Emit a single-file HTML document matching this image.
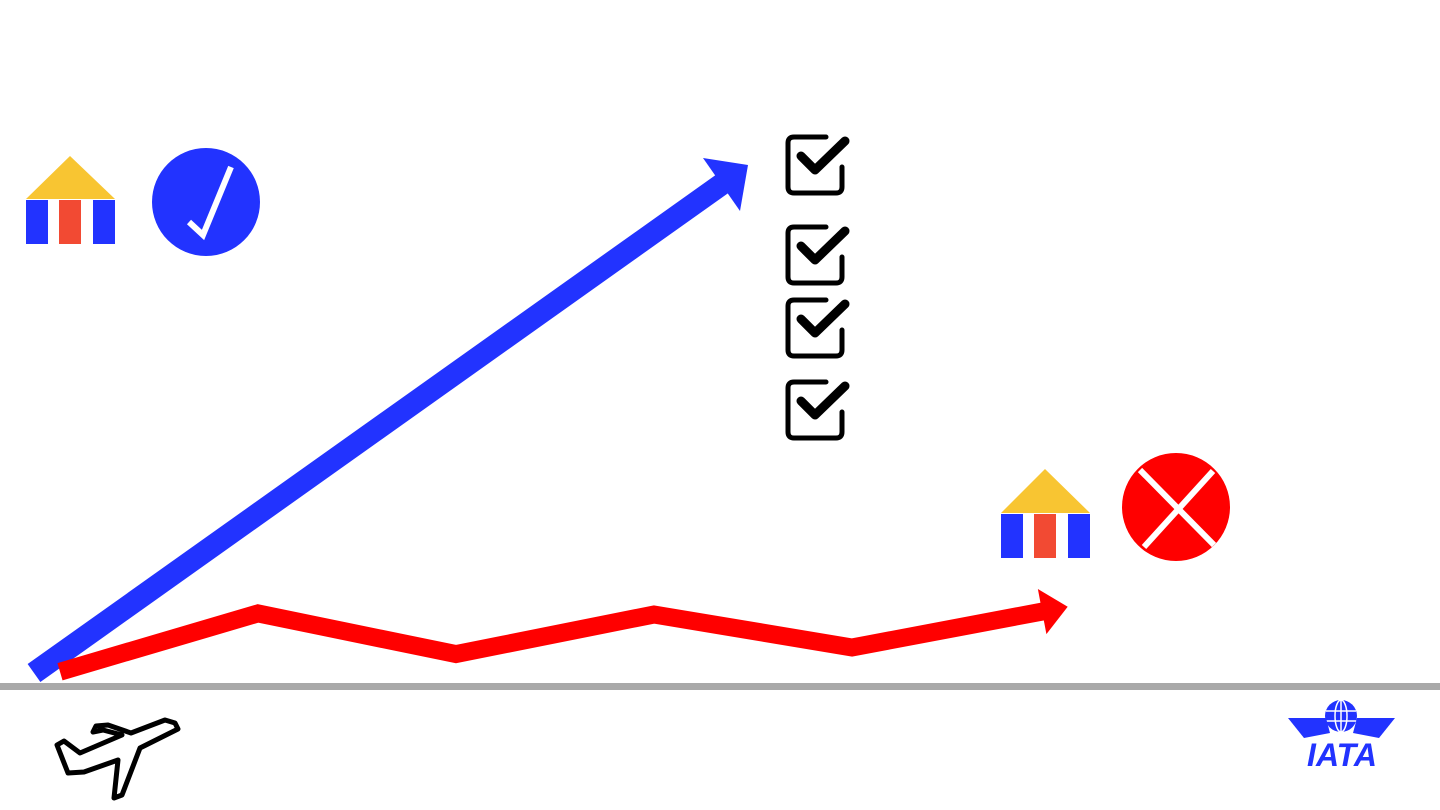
<!DOCTYPE html>
<html><head><meta charset="utf-8"><style>
html,body{margin:0;padding:0;background:#fff;width:1440px;height:810px;overflow:hidden;font-family:"Liberation Sans",sans-serif}
svg{display:block}
</style></head><body>
<svg id="c" width="1440" height="810" viewBox="0 0 1440 810">
<rect x="0" y="683" width="1440" height="7" fill="#a9a9a9"/>
<g id="blue">
 <line x1="34" y1="673" x2="722" y2="184" stroke="#2233ff" stroke-width="22"/>
 <polygon points="748,165 703,158 740,211" fill="#2233ff"/>
</g>
<g id="red"></g>
<g>
 <polygon points="26,199 70,156 115,199" fill="#f8c532"/>
 <rect x="26" y="200" width="22" height="44" fill="#2233ff"/>
 <rect x="59" y="200" width="22" height="44" fill="#f24a33"/>
 <rect x="93" y="200" width="22" height="44" fill="#2233ff"/>
</g>
<g>
 <circle cx="206" cy="202" r="54" fill="#2233ff"/>
 <polyline points="189,222 203,235 231,167" fill="none" stroke="#fff" stroke-width="6"/>
</g>
<g>
 <polygon points="1001,513 1045,469 1090,513" fill="#f8c532"/>
 <rect x="1001" y="514" width="22" height="44" fill="#2233ff"/>
 <rect x="1034" y="514" width="22" height="44" fill="#f24a33"/>
 <rect x="1068" y="514" width="22" height="44" fill="#2233ff"/>
</g>
<g>
 <circle cx="1176" cy="507" r="54" fill="#ff0000"/>
 <line x1="1140" y1="470" x2="1214" y2="545" stroke="#fff" stroke-width="6"/>
 <line x1="1213" y1="471" x2="1144" y2="547" stroke="#fff" stroke-width="6"/>
</g>
<g id="checks"></g>
<g fill="none" stroke="#000" stroke-width="5" stroke-linejoin="round">
 <path d="M57,745 L64,741 L80,753 L122,735 L103,730 L93,732 L96,726 L108,725 L131,733 L165,720 L175,723 L178,729 L140,748 L122,795 L114,798 L118,760 L84,772 L68,773 Z"/>
</g>
<g>
 <circle cx="1341" cy="716" r="16" fill="#2233ff"/>
 <g stroke="#fff" stroke-width="1.5" fill="none">
  <ellipse cx="1341" cy="716" rx="6" ry="16"/>
  <line x1="1341" y1="700" x2="1341" y2="732"/>
  <line x1="1326" y1="711" x2="1356" y2="711"/>
  <line x1="1326" y1="721" x2="1356" y2="721"/>
 </g>
 <path d="M1288,718 L1326,718 L1330,733 L1304,738 Z" fill="#2233ff"/>
 <path d="M1395,718 L1357,718 L1353,733 L1379,738 Z" fill="#2233ff"/>
 <text x="1342" y="766" text-anchor="middle" font-size="32" font-weight="bold" font-style="italic" fill="#2233ff" font-family="Liberation Sans, sans-serif">IATA</text>
</g>
</svg>
<script>
const redLabels = ["p0","p1","p2","p3","p4","p5"];
const redValues = [3, 56, 19, 55, 25, 59];
const checkRows = [0, 1, 2, 3];
const checkTops = [135, 225, 298, 380];

const NS="http://www.w3.org/2000/svg";
const xScale = i => 60 + i*198;
const yScale = v => 675 - v*1.1;
const red=document.getElementById('red');
const pts = redValues.map((v,i)=>[xScale(i), yScale(v)]);
const pl=document.createElementNS(NS,'polyline');


pl.setAttribute('points', pts.map(p=>p.join(',')).join(' '));
pl.setAttribute('fill','none');pl.setAttribute('stroke','#ff0000');pl.setAttribute('stroke-width','18');
red.appendChild(pl);
const last=pts[pts.length-1], prev=pts[pts.length-2];
const ang=Math.atan2(last[1]-prev[1], last[0]-prev[0]);
const tip=[last[0]+18*Math.cos(ang), last[1]+18*Math.sin(ang)];
const bx=last[0]-8*Math.cos(ang), by=last[1]-8*Math.sin(ang);
const nx=-Math.sin(ang), ny=Math.cos(ang);
const head=document.createElementNS(NS,'polygon');


head.setAttribute('points', `${tip[0]},${tip[1]} ${bx+23*nx},${by+23*ny} ${bx-23*nx},${by-23*ny}`);
head.setAttribute('fill','#ff0000');
red.appendChild(head);

const cg=document.getElementById('checks');
checkRows.forEach(i=>{
  const y=checkTops[i], x=786;
  const g=document.createElementNS(NS,'g');
  
  
  g.innerHTML=`<path d="M${x+40},${y+2} L${x+8},${y+2} Q${x+2},${y+2} ${x+2},${y+8} L${x+2},${y+52} Q${x+2},${y+58} ${x+8},${y+58} L${x+50},${y+58} Q${x+56},${y+58} ${x+56},${y+52} L${x+56},${y+32}" fill="none" stroke="#000" stroke-width="5" stroke-linecap="round"/>
  <polyline points="${x+15},${y+21} ${x+29},${y+35} ${x+59},${y+6}" fill="none" stroke="#000" stroke-width="9" stroke-linecap="round" stroke-linejoin="round"/>`;
  cg.appendChild(g);
});
</script>
</body></html>
